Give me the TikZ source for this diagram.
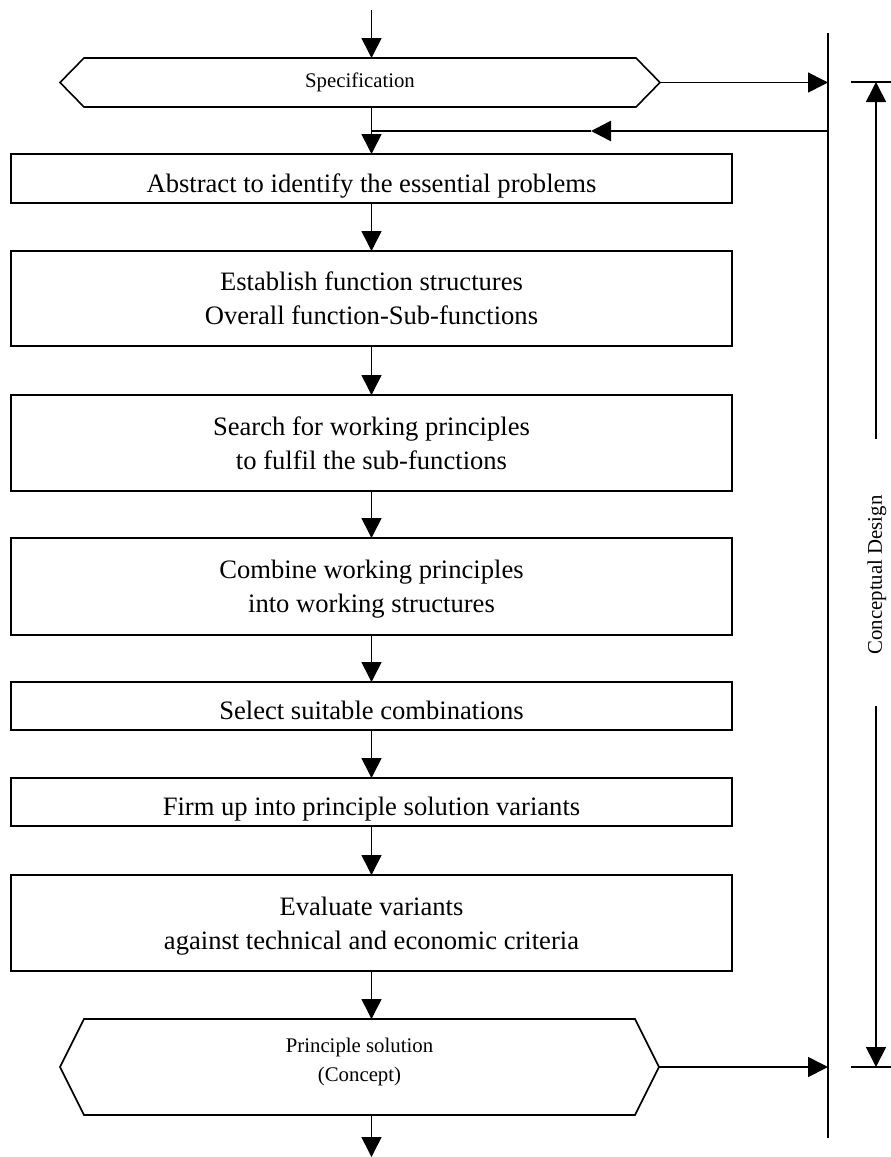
\documentclass[tikz,border=0pt]{standalone}
\usepackage{fontspec}
\setmainfont{Liberation Serif}
\usetikzlibrary{arrows.meta,calc}
\begin{document}
\begin{tikzpicture}[x=1pt,y=-1pt,
  every node/.style={inner sep=0pt, outer sep=0pt},
  stepbox/.style={draw, line width=1.8pt, minimum width=721pt, align=center,
    font=\fontsize{26.6}{34}\selectfont},
  oneline/.style={stepbox, text height=27pt, text depth=0pt},
  twoline/.style={stepbox, text height=52pt, text depth=0pt},
  tip/.style={-{Triangle[length=20pt,width=20pt]}},
  arr/.style={line width=1.6pt, tip},
  small/.style={font=\fontsize{20.8}{29.5}\selectfont, align=center},
  hexline/.style={line width=1.6pt, line join=miter},
  plain/.style={line width=1.6pt}
]
\useasboundingbox (0,0) rectangle (891,1157);

% process steps
\node[oneline, minimum height=49pt] (b1) at (371.5,178.5) {Abstract to identify the essential problems};
\node[twoline, minimum height=95pt] (b2) at (371.5,298.5) {Establish function structures\\Overall function-Sub-functions};
\node[twoline, minimum height=96pt] (b3) at (371.5,443) {Search for working principles\\to fulfil the sub-functions};
\node[twoline, minimum height=97pt] (b4) at (371.5,586.5) {Combine working principles\\into working structures};
\node[oneline, minimum height=48pt] (b5) at (371.5,706) {Select suitable combinations};
\node[oneline, minimum height=48pt] (b6) at (371.5,802) {Firm up into principle solution variants};
\node[twoline, minimum height=96pt] (b7) at (371.5,923) {Evaluate variants\\against technical and economic criteria};

% input and output hexagons
\node[small, minimum width=552pt, minimum height=49pt] (spec) at (360,82.5) {Specification};
\draw[hexline] (spec.north west) -- (spec.north east) -- ($(spec.east)+(24,0)$) coordinate (specR)
  -- (spec.south east) -- (spec.south west) -- ($(spec.west)+(-24,0)$) -- cycle;

\node[small, minimum width=551pt, minimum height=96pt, text height=44.5pt, text depth=15pt] (sol) at (359.5,1067) {Principle solution\\(Concept)};
\draw[hexline] (sol.north west) -- (sol.north east) -- ($(sol.east)+(24,0)$) coordinate (solR)
  -- (sol.south east) -- (sol.south west) -- ($(sol.west)+(-24,0)$) -- cycle;

% information line
\coordinate (vtop) at (828,33);
\coordinate (vbot) at (828,1138);
\draw[plain] (vtop) -- (vbot);

% main flow
\coordinate (in) at (371.5,10);
\coordinate (out) at (371.5,1157);
\draw[arr] (in) -- (in |- spec.north);
\draw[arr] (b1.north |- spec.south) -- (b1.north);
\draw[arr] (b1) -- (b2);
\draw[arr] (b2) -- (b3);
\draw[arr] (b3) -- (b4);
\draw[arr] (b4) -- (b5);
\draw[arr] (b5) -- (b6);
\draw[arr] (b6) -- (b7);
\draw[arr] (b7) -- (b7.south |- sol.north);
\draw[arr] (b7.south |- sol.south) -- (out);

% outputs to the information line
\draw[arr] (specR) -- (specR -| vtop);
\draw[arr] (solR) -- (solR -| vtop);

% feedback
\coordinate (fbR) at (828,131);
\coordinate (fbM) at (591,131);
\coordinate (fbL) at (b1.north |- fbR);
\draw[line width=2.6pt, tip] (fbR) -- (fbM);
\draw[plain] (fbM) -- (fbL);

% phase dimension
\coordinate (dtop) at (876,82);
\coordinate (dbot) at (876,1067);
\coordinate (gapT) at (876,439);
\coordinate (gapB) at (876,706);
\draw[plain] ($(dtop)+(-25,0)$) -- ($(dtop)+(15,0)$);
\draw[plain] ($(dbot)+(-25,0)$) -- ($(dbot)+(15,0)$);
\draw[arr] (gapT) -- (dtop);
\draw[arr] (gapB) -- (dbot);
\node[small, rotate=90] (phase) at (877,575) {Conceptual Design};
\end{tikzpicture}
\end{document}
